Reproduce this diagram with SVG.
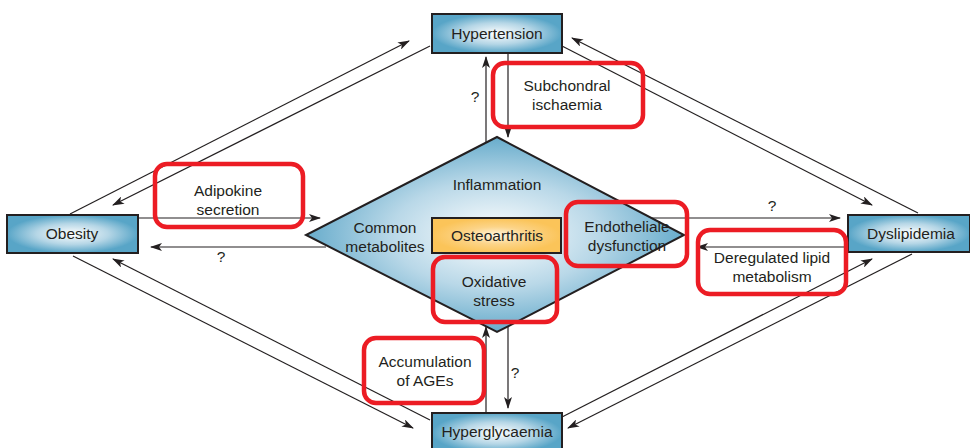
<svg xmlns="http://www.w3.org/2000/svg" width="970" height="448" viewBox="0 0 970 448">
<defs>
<radialGradient id="gBlue" cx="0.5" cy="0.5" r="0.5">
<stop offset="0" stop-color="#ffffff"/>
<stop offset="0.55" stop-color="#b5d6e6"/>
<stop offset="1" stop-color="#58a5c7"/>
</radialGradient>
<radialGradient id="gDia" cx="0.5" cy="0.5" r="0.55">
<stop offset="0" stop-color="#ffffff"/>
<stop offset="0.5" stop-color="#b9d8e8"/>
<stop offset="1" stop-color="#55a2c5"/>
</radialGradient>
<radialGradient id="gOr" cx="0.5" cy="0.5" r="0.5">
<stop offset="0" stop-color="#fff6e2"/>
<stop offset="0.5" stop-color="#fcd488"/>
<stop offset="1" stop-color="#fbc459"/>
</radialGradient>
<marker id="ar" viewBox="0 0 12 8" refX="11" refY="4" markerWidth="12" markerHeight="8" markerUnits="userSpaceOnUse" orient="auto">
<path d="M0,0 L12,4 L0,8 L3,4 z" fill="#231f20"/>
</marker>
</defs>
<style>
.box{fill:url(#gBlue);stroke:#231f20;stroke-width:2}
.t{font-family:"Liberation Sans",Arial,sans-serif;font-size:15.5px;fill:#231f20;text-anchor:middle}
.c{stroke:#231f20;stroke-width:1.2;fill:none;marker-end:url(#ar)}
.red{fill:none;stroke:#ec1c24;stroke-width:4.5}
</style>
<g id="connectors">
<line class="c" x1="70" y1="214" x2="409" y2="41"/>
<line class="c" x1="430" y1="46" x2="113" y2="205"/>
<line class="c" x1="562" y1="46" x2="872" y2="205"/>
<line class="c" x1="918" y1="213" x2="572" y2="38"/>
<line class="c" x1="138" y1="218" x2="320" y2="218"/>
<line class="c" x1="326" y1="247" x2="151" y2="247"/>
<line class="c" x1="652" y1="218" x2="840" y2="218"/>
<line class="c" x1="848" y1="247" x2="697" y2="247"/>
<line class="c" x1="562" y1="417" x2="872" y2="259"/>
<line class="c" x1="912" y1="254" x2="568" y2="428"/>
<line class="c" x1="73" y1="256" x2="413" y2="428"/>
<line class="c" x1="430" y1="420" x2="113" y2="259"/>
<line class="c" x1="486" y1="413" x2="486" y2="327"/>
<line class="c" x1="508" y1="327" x2="508" y2="408"/>
<line class="c" x1="486" y1="143" x2="486" y2="57"/>
<line class="c" x1="508" y1="53" x2="508" y2="137"/>
<text class="t" x="221" y="262">?</text>
<text class="t" x="772" y="211">?</text>
<text class="t" x="515" y="378">?</text>
<text class="t" x="475" y="102">?</text>
</g>
<g id="hypertension">
<rect class="box" x="432" y="14" width="130" height="39"/>
<text class="t" x="497" y="39">Hypertension</text>
</g>
<g id="obesity">
<rect class="box" x="7" y="215" width="131" height="38"/>
<text class="t" x="72" y="239">Obesity</text>
</g>
<g id="dyslipidemia">
<rect class="box" x="848" y="215" width="122" height="37"/>
<text class="t" x="911" y="239">Dyslipidemia</text>
</g>
<g id="hyperglycaemia">
<rect class="box" x="432" y="413" width="130" height="40"/>
<text class="t" x="497" y="437">Hyperglycaemia</text>
</g>
<g id="center">
<polygon points="497,137 684,235 497,332 306,235" fill="url(#gDia)" stroke="#231f20" stroke-width="2"/>
<text class="t" x="497" y="190">Inflammation</text>
<text class="t" x="385" y="233">Common</text>
<text class="t" x="385" y="252">metabolites</text>
<text class="t" x="627" y="232">Endotheliale</text>
<text class="t" x="627" y="251">dysfunction</text>
<text class="t" x="494" y="287">Oxidative</text>
<text class="t" x="494" y="306">stress</text>
</g>
<g id="osteoarthritis">
<rect x="432" y="218" width="129" height="35" fill="url(#gOr)" stroke="#231f20" stroke-width="2"/>
<text class="t" x="497" y="241">Osteoarthritis</text>
</g>
<g id="adipokine">
<rect class="red" x="155" y="164" width="148" height="63" rx="12"/>
<text class="t" x="228" y="196">Adipokine</text>
<text class="t" x="228" y="215">secretion</text>
</g>
<g id="subchondral">
<rect class="red" x="493" y="63" width="150" height="64" rx="12"/>
<text class="t" x="567" y="91">Subchondral</text>
<text class="t" x="567" y="110">ischaemia</text>
</g>
<g id="endothelial">
<rect class="red" x="566" y="202" width="121" height="64" rx="12"/>
</g>
<g id="oxidative">
<rect class="red" x="433" y="257" width="124" height="65" rx="12"/>
</g>
<g id="deregulated">
<rect class="red" x="698" y="230" width="148" height="64" rx="12"/>
<text class="t" x="772" y="263">Deregulated lipid</text>
<text class="t" x="772" y="282">metabolism</text>
</g>
<g id="ages">
<rect class="red" x="364" y="338" width="120" height="65" rx="12"/>
<text class="t" x="425" y="367">Accumulation</text>
<text class="t" x="425" y="386">of AGEs</text>
</g>
</svg>
